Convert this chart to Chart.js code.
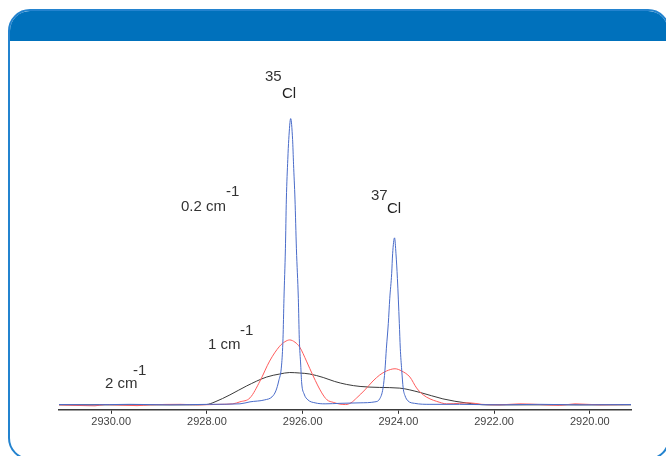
<!DOCTYPE html>
<html>
<head>
<meta charset="utf-8">
<script src="https://cdn.jsdelivr.net/npm/chart.js@4.4.0/dist/chart.umd.min.js"></script>
<style>
  html, body { margin: 0; padding: 0; background: #fff; }
  body { width: 666px; height: 456px; position: relative; overflow: hidden; }
  .frame {
    position: absolute; left: 8px; top: 9px; width: 658px; height: 447px;
    border: 2px solid #2383cf; border-radius: 22px; background: #fff; overflow: hidden;
  }
  .frame .head { height: 30px; background: #0071bc; }
  #wrap { position: absolute; left: 0; top: 0; width: 666px; height: 456px; }
  .lbl {
    position: absolute; font: 15px "Liberation Sans", Arial, sans-serif;
    line-height: 15px; color: #333; white-space: nowrap;
  }
</style>
</head>
<body>
<div class="frame"><div class="head"></div></div>
<div id="wrap"><canvas id="spectrum" width="666" height="456"></canvas></div>

<span class="lbl" style="left:265px;top:68px">35</span>
<span class="lbl" style="left:282px;top:85px;color:#222">Cl</span>
<span class="lbl" style="left:181px;top:198px">0.2 cm</span>
<span class="lbl" style="left:226px;top:183px">-1</span>
<span class="lbl" style="left:371px;top:187px">37</span>
<span class="lbl" style="left:387px;top:200px;color:#222">Cl</span>
<span class="lbl" style="left:208px;top:336px">1 cm</span>
<span class="lbl" style="left:240px;top:322px">-1</span>
<span class="lbl" style="left:105px;top:375px">2 cm</span>
<span class="lbl" style="left:133px;top:362px">-1</span>

<script>
// wavenumber axis ticks (cm-1)
const tickValues = [2930, 2928, 2926, 2924, 2922, 2920];

// 0.2 cm-1 resolution (blue)
const wn02 = [2931.09, 2930.45, 2929.61, 2928.77, 2927.94, 2927.31, 2927.10, 2926.79, 2926.64, 2926.56,
  2926.50, 2926.44, 2926.41, 2926.39, 2926.36, 2926.34, 2926.31, 2926.29, 2926.25, 2926.21,
  2926.19, 2926.16, 2926.13, 2926.09, 2926.07, 2926.04, 2926.02, 2925.97, 2925.89, 2925.74,
  2925.53, 2925.22, 2924.80, 2924.49, 2924.39, 2924.32, 2924.28, 2924.25, 2924.21, 2924.18,
  2924.14, 2924.12, 2924.08, 2924.05, 2924.02, 2923.98, 2923.96, 2923.93, 2923.90, 2923.86,
  2923.80, 2923.66, 2923.34, 2922.72, 2921.88, 2921.04, 2920.21, 2919.14];
const abs02 = [0.3, 0, 0.5, 0, 0.5, 1, 3, 5, 8, 14,
  24, 40, 67, 107, 157, 207, 247, 267, 288, 267,
  242, 207, 157, 107, 67, 40, 22, 11, 5, 2,
  1, 1.5, 2, 3, 6, 17, 35, 57, 82, 107,
  132, 152, 168, 152, 127, 82, 57, 35, 17, 9,
  4, 1.5, 0.5, 0.5, 0, 0.5, 0, 0.3];

// 1 cm-1 resolution (red)
const wn1 = [2931.09, 2930.34, 2930.13, 2929.46, 2929.19, 2928.56, 2928.15, 2927.73, 2927.46, 2927.31,
  2927.10, 2926.89, 2926.69, 2926.48, 2926.37, 2926.27, 2926.16, 2926.06, 2925.92, 2925.78,
  2925.60, 2925.49, 2925.36, 2925.22, 2925.10, 2924.99, 2924.87, 2924.70, 2924.53, 2924.39,
  2924.25, 2924.07, 2923.93, 2923.76, 2923.62, 2923.48, 2923.34, 2923.20, 2922.99, 2922.72,
  2922.51, 2922.26, 2921.88, 2921.46, 2921.04, 2920.63, 2920.31, 2919.79, 2919.14];
const abs1 = [0, -1, 0.3, -0.8, 0, 0.5, 0, 0.5, 1, 3,
  7, 24, 44, 59, 63.5, 65.3, 63, 58, 44, 29,
  12, 5, 2.5, 0.7, 0.3, 2, 7, 15, 24, 30,
  34, 36.3, 34, 28, 17, 10, 6, 3.5, 1, 1.5,
  2, 0.5, 0, 1, 0.3, -0.5, 1, 0, 0.3];

// 2 cm-1 resolution (black)
const wn2 = [2931.09, 2930.24, 2929.19, 2928.36, 2928.01, 2927.83, 2927.52, 2927.17, 2926.75, 2926.48,
  2926.27, 2926.06, 2925.85, 2925.57, 2925.33, 2925.08, 2924.80, 2924.39, 2923.97, 2923.55,
  2923.07, 2922.57, 2922.15, 2921.04, 2919.79, 2919.14];
const abs2 = [0, 0, 0, 0, 0.3, 3, 10, 19, 28, 31,
  32.5, 32, 31, 27.5, 23.5, 20.5, 18.5, 17.5, 16.8, 12.5,
  6, 1.8, 0, 0, 0, 0];

function pts(xs, ys) {
  return xs.map((x, i) => ({ x: x, y: ys[i] }));
}

function line(data, color) {
  return {
    data: data,
    borderColor: color,
    borderWidth: 1,
    pointRadius: 0,
    fill: false,
    cubicInterpolationMode: "monotone",
  };
}

new Chart(document.getElementById("spectrum"), {
  type: "line",
  data: {
    datasets: [
      line(pts(wn02, abs02), "#4a6cc9"),
      line(pts(wn1, abs1), "#ff5c5c"),
      line(pts(wn2, abs2), "#3a3a3a"),
    ],
  },
  options: {
    responsive: false,
    animation: false,
    layout: { padding: { left: 59, right: 35, top: 50, bottom: 25 } },
    plugins: { legend: { display: false }, tooltip: { enabled: false } },
    scales: {
      x: {
        type: "linear",
        reverse: true,
        min: 2919.14,
        max: 2931.09,
        afterBuildTicks: (scale) => {
          scale.ticks = tickValues.map((v) => ({ value: v }));
        },
        grid: { drawOnChartArea: false, drawTicks: true, tickLength: 4, color: "#333" },
        border: { display: true, color: "#3a3a3a", width: 1.5 },
        ticks: {
          autoSkip: false,
          maxRotation: 0,
          padding: 2,
          color: "#444",
          font: { family: "Liberation Sans", size: 11 },
          callback: (v) => Number(v).toFixed(2),
        },
      },
      y: { display: false, min: -5, max: 357 },
    },
  },
});
</script>
</body>
</html>
